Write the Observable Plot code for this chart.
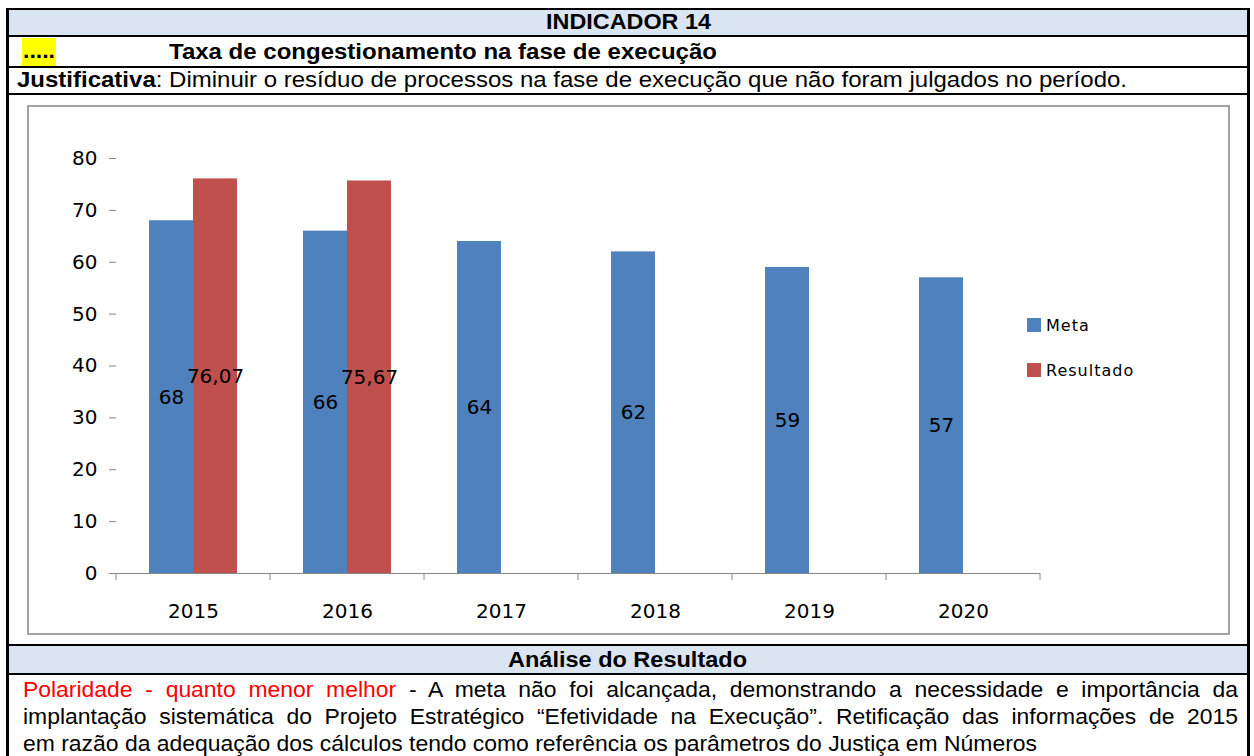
<!DOCTYPE html>
<html><head><meta charset="utf-8">
<script src="https://cdn.jsdelivr.net/npm/d3@7"></script>
<script src="https://cdn.jsdelivr.net/npm/@observablehq/plot@0.6"></script>
<style>
html,body{margin:0;padding:0;background:#fff;}
body{width:1254px;height:756px;overflow:hidden;position:relative;font-family:"Liberation Sans",Arial,sans-serif;color:#000;}
.abs{position:absolute;}
.hl{position:absolute;background:#000;}
.fill{position:absolute;background:#dbe5f1;}
.t{position:absolute;white-space:nowrap;font-size:22px;line-height:22px;transform-origin:0 50%;}
.b{font-weight:bold;}
#frame{position:absolute;left:27px;top:105px;width:1199px;height:526px;border:2px solid #a3a3a3;box-sizing:content-box;}
#chart{position:absolute;left:28px;top:106px;}
#legend{position:absolute;left:1027px;top:318px;font-family:"DejaVu Sans";font-size:16px;letter-spacing:1px;}
#legend .row{display:flex;align-items:center;height:14px;margin-bottom:31px;}
#legend .sw{width:14px;height:14px;margin-right:5px;}
.para{position:absolute;left:23px;font-size:22px;line-height:22px;white-space:nowrap;transform-origin:0 50%;}
.just{text-align:justify;text-align-last:justify;white-space:normal;}
</style></head>
<body>
<div class="fill" style="left:8px;top:10px;width:1240px;height:25px"></div>
<div class="fill" style="left:8px;top:646px;width:1240px;height:27px"></div>
<div class="hl" style="left:6px;top:8px;width:1244px;height:2px"></div>
<div class="hl" style="left:6px;top:35px;width:1244px;height:2px"></div>
<div class="hl" style="left:6px;top:66px;width:1244px;height:2px"></div>
<div class="hl" style="left:6px;top:93px;width:1244px;height:2px"></div>
<div class="hl" style="left:6px;top:644px;width:1244px;height:2px"></div>
<div class="hl" style="left:6px;top:673px;width:1244px;height:2px"></div>
<div class="hl" style="left:6px;top:8px;width:3px;height:760px"></div>
<div class="hl" style="left:1247px;top:8px;width:3px;height:760px"></div>

<span class="t b" id="t1" style="top:11px">INDICADOR 14</span>
<div class="abs" style="left:22px;top:38px;width:34px;height:28px;background:#ffff00"></div>
<span class="t b" id="tdots" style="top:40px;left:22px">.....</span>
<span class="t b" id="t2" style="top:41px">Taxa de congestionamento na fase de execução</span>
<span class="t" id="t3" style="top:69px"><b>Justificativa</b>: Diminuir o resíduo de processos na fase de execução que não foram julgados no período.</span>
<span class="t b" id="t4" style="top:649px">Análise do Resultado</span>

<div class="para" id="p1" style="top:679px"><span style="color:#ff0000">Polaridade - quanto menor melhor</span> - A meta não foi alcançada, demonstrando a necessidade e importância da</div>
<div class="para" id="p2" style="top:706px">implantação sistemática do Projeto Estratégico “Efetividade na Execução”. Retificação das informações de 2015</div>
<div class="para" id="p3" style="top:733px">em razão da adequação dos cálculos tendo como referência os parâmetros do Justiça em Números</div>

<div id="frame"></div>
<div id="chart"></div>
<div id="legend"></div>

<script>
// ---- data ----
const years = ["2015", "2016", "2017", "2018", "2019", "2020"];
const series = ["Meta", "Resultado"];
const meta = [68, 66, 64, 62, 59, 57];
const resultado = [76.07, 75.67, null, null, null, null];
const yTicks = [0, 10, 20, 30, 40, 50, 60, 70, 80];
const colors = ["#4f81bd", "#c0504d"];

const rows = years.flatMap((yr, i) => [
  {year: yr, series: series[0], value: meta[i]},
  {year: yr, series: series[1], value: resultado[i]}
]).filter(d => d.value != null);

const fmt = v => v.toLocaleString("pt-BR");

const chart = Plot.plot({
  width: 1198, height: 526,
  marginLeft: 86, marginRight: 184, marginTop: 52, marginBottom: 59,
  style: {fontFamily: "DejaVu Sans", fontSize: "20px", background: "transparent", overflow: "visible", color: "#000"},
  facet: {marginTop: 0, marginRight: 0, marginBottom: 0, marginLeft: 0},
  fx: {domain: years, padding: 0, label: null},
  x: {domain: series, paddingInner: 0, paddingOuter: 0.72, axis: null},
  y: {domain: [0, 80], label: null},
  color: {domain: series, range: colors},
  marks: [
    Plot.barY(rows, {fx: "year", x: "series", y: "value", fill: "series"}),
    Plot.ruleY([0], {stroke: "#868686"}),
    Plot.axisY({ticks: yTicks, tickSize: 7, tickPadding: 12, stroke: "#868686", fill: "#000", line: true, label: null, fontSize: 20}),
    Plot.axisFx({anchor: "bottom", tickSize: 0, tickPadding: 30, label: null, fontSize: 20, fill: "#000"}),
    Plot.text(rows, {fx: "year", x: "series", y: d => d.value / 2, text: d => fmt(d.value), fontSize: 20, fill: "#000"})
  ]
});
document.getElementById("chart").appendChild(chart);

// category separator ticks on the x axis, from Plot's own scales
const fx = chart.scale("fx"), ys = chart.scale("y");
const y0 = ys.apply(0);
const edges = years.map(v => fx.apply(v)).concat([fx.apply(years[years.length - 1]) + fx.bandwidth]);
d3.select(chart).append("g")
  .selectAll("line").data(edges).join("line")
  .attr("x1", d => d).attr("x2", d => d)
  .attr("y1", y0).attr("y2", y0 + 7)
  .attr("stroke", "#868686");

// legend
const lg = d3.select("#legend");
series.forEach((s, i) => {
  const r = lg.append("div").attr("class", "row");
  r.append("div").attr("class", "sw").style("background", colors[i]);
  r.append("span").text(s);
});

// text fitting to reference extents
function fit(id, left, right) {
  const el = document.getElementById(id);
  el.style.left = left + "px";
  const w = el.getBoundingClientRect().width;
  el.style.transform = `scaleX(${(right - left) / w})`;
  return (right - left) / w;
}
fit("t1", 546, 711);
fit("tdots", 23, 55);
fit("t2", 169, 717);
fit("t3", 17, 1127);
fit("t4", 508, 747);
const k = fit("p3", 23, 1037);
["p1", "p2"].forEach(id => {
  const el = document.getElementById(id);
  el.classList.add("just");
  el.style.width = ((1238 - 23) / k) + "px";
  el.style.transform = `scaleX(${k})`;
});
</script>
</body></html>
